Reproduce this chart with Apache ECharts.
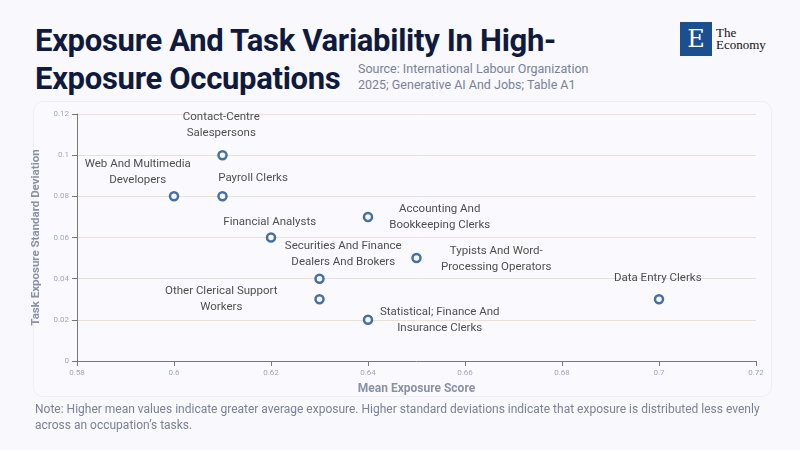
<!DOCTYPE html>
<html><head><meta charset="utf-8">
<script src="https://cdn.jsdelivr.net/npm/echarts@6/dist/echarts.min.js"></script>
<style>
body{margin:0;background:#f8f8fd;font-family:"Roboto",sans-serif;}
#wrap{position:relative;width:800px;height:450px;overflow:hidden}
#title{position:absolute;left:35px;top:22px;font-size:31px;font-weight:bold;color:#0f1a3c;line-height:38px;letter-spacing:-0.3px}
#src{position:absolute;left:358px;top:61px;font-size:12.5px;color:#7a8299;line-height:16px}
#logo{position:absolute;left:680px;top:22px;display:flex;align-items:center}
#logo .box{width:32px;height:34px;background:#1c4f8f;color:#fff;font-family:"DejaVu Serif",serif;font-size:24px;text-align:center;line-height:34px}
#logo .txt{margin-left:4px;font-family:"Liberation Serif",serif;font-size:13px;line-height:12px;color:#111}
#card{position:absolute;left:33px;top:101px;width:737px;height:294px;background:#fafafe;border:1px solid #eeeef4;border-radius:10px}
#chart{position:absolute;left:0;top:0;width:800px;height:450px}
#note{position:absolute;left:35px;top:401px;font-size:12px;color:#7a8299;line-height:16px;width:760px}
</style></head><body>
<div id="wrap">
<div id="card"></div>
<div id="title">Exposure And Task Variability In High-<br>Exposure Occupations</div>
<div id="src">Source: International Labour Organization<br>2025; Generative AI And Jobs; Table A1</div>
<div id="logo"><div class="box">E</div><div class="txt">The<br>Economy</div></div>
<div id="chart"></div>
<div id="note">Note: Higher mean values indicate greater average exposure. Higher standard deviations indicate that exposure is distributed less evenly across an occupation’s tasks.</div>
</div>
<script>
const occupations = ['Contact-Centre\nSalespersons', 'Web And Multimedia\nDevelopers', 'Payroll Clerks', 'Accounting And\nBookkeeping Clerks', 'Financial Analysts', 'Typists And Word-\nProcessing Operators', 'Securities And Finance\nDealers And Brokers', 'Other Clerical Support\nWorkers', 'Data Entry Clerks', 'Statistical; Finance And\nInsurance Clerks']
const meanExposure = [0.61, 0.60, 0.61, 0.64, 0.62, 0.65, 0.63, 0.63, 0.70, 0.64]
const stdDeviation = [0.10, 0.08, 0.08, 0.07, 0.06, 0.05, 0.04, 0.03, 0.03, 0.02]
// label placement per point: [dx, dy, align] relative to the point centre
const labelPlace = [
  [0, -29, 'center'], [-35, -23, 'center'], [-3, -17, 'left'], [73, 1, 'center'],
  [0, -14, 'center'], [81, 2, 'center'], [25, -23, 'center'], [-97, 1, 'center'],
  [0, -20, 'center'], [73, 2, 'center']
]
const chart = echarts.init(document.getElementById('chart'))
const data = meanExposure.map((x, i) => {
  const p = labelPlace[i]
  return {
    name: occupations[i],
    value: [x, stdDeviation[i]],
    label: { position: [4 + p[0], 4 + p[1]], align: p[2], verticalAlign: 'middle' }
  }
})
chart.setOption({
  textStyle: { fontFamily: 'Roboto' },
  grid: { left: 77, right: 44, top: 114, bottom: 89 },
  xAxis: {
    type: 'value', min: 0.58, max: 0.72, interval: 0.02,
    name: 'Mean Exposure Score', nameLocation: 'middle', nameGap: 22,
    nameTextStyle: { color: '#8a90a6', fontWeight: 'bold', fontSize: 12 },
    axisLine: { lineStyle: { color: '#777' } }, axisTick: { lineStyle: { color: '#777' } },
    axisLabel: { color: '#a0a6bb', fontSize: 8, margin: 8 },
    splitLine: { show: false }
  },
  yAxis: {
    type: 'value', min: 0, max: 0.12, interval: 0.02,
    name: 'Task Exposure Standard Deviation', nameLocation: 'middle', nameGap: 33,
    nameTextStyle: { color: '#8a90a6', fontWeight: 'bold', fontSize: 11.5 },
    axisLine: { show: true, lineStyle: { color: '#777' } }, axisTick: { show: true, lineStyle: { color: '#777' } },
    axisLabel: { color: '#a0a6bb', fontSize: 8 },
    splitLine: { lineStyle: { color: '#e6e2d8' } }
  },
  series: [{
    type: 'scatter', data: data, symbol: 'circle', symbolSize: 8,
    itemStyle: { color: '#fafafe', borderColor: '#174e8c', borderWidth: 2.5 },
    label: { show: true, formatter: p => p.name, color: '#222', fontSize: 11.5, lineHeight: 16 }
  }]
})
</script>
</body></html>
